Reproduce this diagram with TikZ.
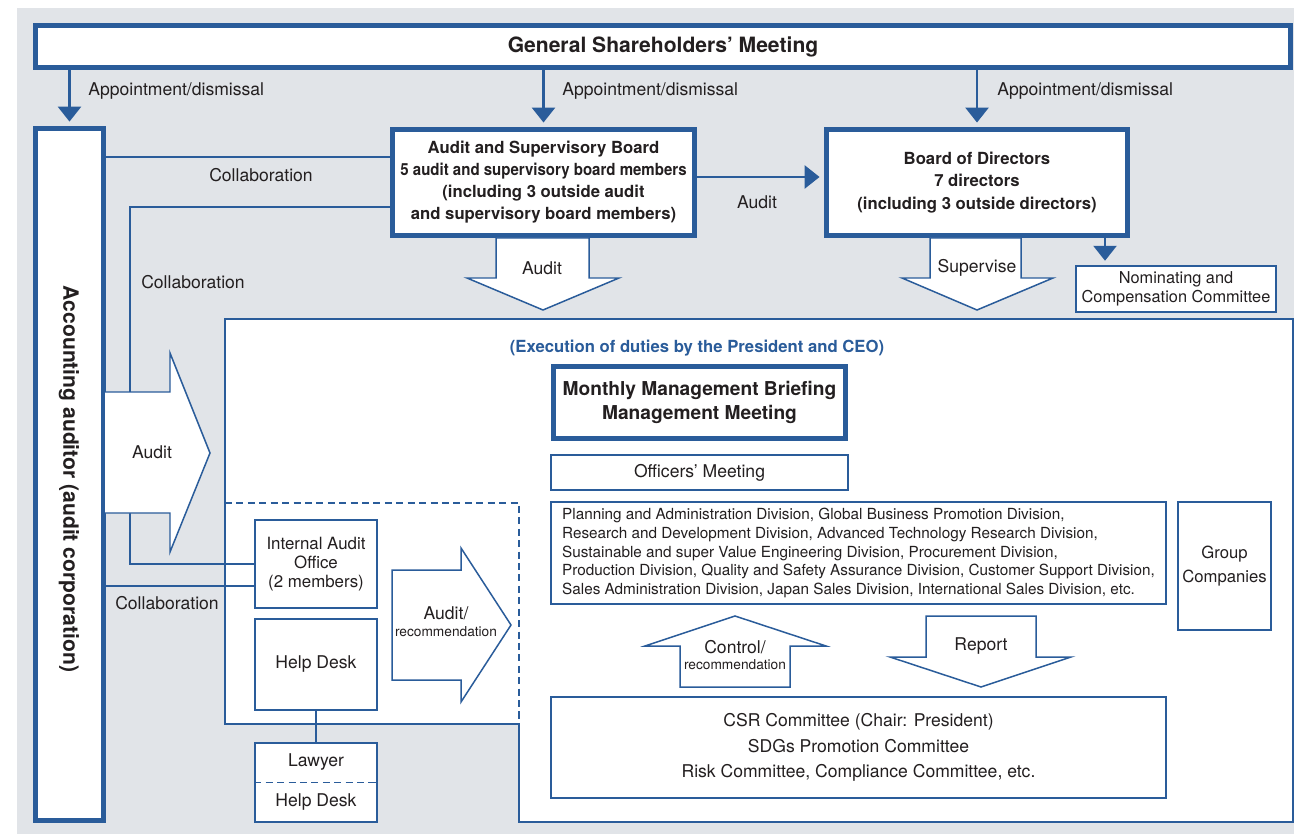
\documentclass[tikz,border=0pt]{standalone}
\usepackage{fontspec}
\setmainfont{TeX Gyre Heros}
\usepackage{graphicx}
\usepackage{tikz}
\usetikzlibrary{arrows.meta}
\definecolor{govblue}{RGB}{42,92,154}
\definecolor{govgray}{RGB}{225,228,232}
\definecolor{govtext}{RGB}{35,31,32}

\begin{document}
\begin{tikzpicture}[x=0.02cm,y=-0.02cm,
  thickbox/.style={draw=govblue,line width=2.8pt,fill=white,text=govtext,align=center,inner sep=0pt},
  thinbox/.style={draw=govblue,line width=0.85pt,fill=white,text=govtext,align=center,inner sep=0pt},
  link/.style={draw=govblue,line width=1.6pt},
  tip/.style={-{Triangle[length=3mm,width=4.6mm]},shorten >=0.9mm},
  bigarrow/.style={draw=govblue,line width=0.85pt,fill=white,line join=miter},
  lbl/.style={text=govtext,font=\fontsize{10}{12}\selectfont,inner sep=0pt}]
\useasboundingbox (0,0) rectangle (1294,834);
\fill [govgray] (17,8) rectangle (1294,834);

% execution area
\draw [govblue,line width=0.85pt,fill=white] (225,319) -- (1293,319) -- (1293,822) -- (519,822) -- (519,724) -- (225,724) -- cycle;
\draw [govblue,line width=0.85pt,dash pattern=on 4pt off 2.5pt] (225,503) -- (519,503) -- (519,724);
\node [text=govblue,font=\bfseries\fontsize{9.5}{11}\selectfont,inner sep=0pt] (execution) at (697,348) {(Execution of duties by the President and CEO)};

% boxes
\node [thickbox,minimum width=25.1cm,minimum height=0.84cm,font=\bfseries\fontsize{12}{14}\selectfont] (share) at (663,46.5) {General Shareholders' Meeting};
\node [thickbox,minimum width=1.36cm,minimum height=13.84cm] (acct) at (69.5,474.5) {};
\node [rotate=-90,text=govtext,font=\bfseries\fontsize{12}{14}\selectfont,inner sep=0pt] (acctlabel) at (69,479) {Accounting auditor (audit corporation)};
\node [thickbox,minimum width=6.04cm,minimum height=2.12cm,font=\bfseries\fontsize{9.5}{12.5}\selectfont] (board) at (543.5,182.5)
  {Audit and Supervisory Board\\\scalebox{0.9}[1]{5 audit and supervisory board members}\\(including 3 outside audit\\and supervisory board members)};
\node [thickbox,minimum width=6.02cm,minimum height=2.12cm,font=\bfseries\fontsize{9.5}{12.7}\selectfont] (directors) at (977,182.5)
  {Board of Directors\\7 directors\\(including 3 outside directors)};
\node [thinbox,minimum width=4.0cm,minimum height=0.92cm,font=\fontsize{9.3}{10.8}\selectfont] (nominating) at (1176,289) {Nominating and\\Compensation Committee};
\node [thickbox,minimum width=5.84cm,minimum height=1.44cm,font=\bfseries\fontsize{10.9}{14}\selectfont] (monthly) at (699.5,402.5) {Monthly Management Briefing\\Management Meeting};
\node [thinbox,minimum width=5.94cm,minimum height=0.70cm,font=\fontsize{10}{12}\selectfont] (officers) at (699.5,472.5) {Officers' Meeting};
\node [thinbox,minimum width=12.3cm,minimum height=2.04cm,align=left,font=\fontsize{8.7}{10.6}\selectfont] (divisions) at (858.5,553)
  {Planning and Administration Division, Global Business Promotion Division,\\
   Research and Development Division, Advanced Technology Research Division,\\
   Sustainable and super Value Engineering Division, Procurement Division,\\
   Production Division, Quality and Safety Assurance Division, Customer Support Division,\\
   Sales Administration Division, Japan Sales Division, International Sales Division, etc.};
\node [thinbox,minimum width=1.86cm,minimum height=2.56cm,font=\fontsize{9.5}{14}\selectfont] (group) at (1224.5,566) {Group\\Companies};
\node [thinbox,minimum width=12.3cm,minimum height=2.02cm,font=\fontsize{10}{14.7}\selectfont] (csr) at (858.5,747.5)
  {CSR Committee (Chair: President)\\SDGs Promotion Committee\\Risk Committee, Compliance Committee, etc.};
\node [thinbox,minimum width=2.44cm,minimum height=1.76cm,font=\fontsize{9.6}{10.8}\selectfont] (internal) at (316,564) {Internal Audit\\Office\\(2 members)};
\node [thinbox,minimum width=2.44cm,minimum height=1.82cm,font=\fontsize{10}{12}\selectfont] (helpdesk) at (316,664.5) {Help Desk};
\node [thinbox,minimum width=2.44cm,minimum height=1.58cm] (lawyer) at (316,782.5) {};
\draw [govblue,line width=0.85pt,dash pattern=on 4pt off 2.5pt] (lawyer.west) -- (lawyer.east);
\node [lbl] (lawyerlabel) at (316,762) {Lawyer};
\node [lbl] (deskbelow) at (316,802) {Help Desk};

% helper points
\coordinate (collabA) at (0,157);
\coordinate (collabB) at (130,207);
\coordinate (collabC) at (130,564);
\coordinate (collabD) at (0,586);
\coordinate (nomx) at (1105,0);
\coordinate (auditline) at (0,177);

% connectors
\draw [link,tip] (share.south -| acct.north) -- (acct.north);
\draw [link,tip] (share.south -| board.north) -- (board.north);
\draw [link,tip] (share.south -| directors.north) -- (directors.north);
\draw [link,tip] (board.east |- auditline) -- (directors.west |- auditline);
\draw [link,tip] (directors.south -| nomx) -- (nominating.north -| nomx);
\draw [link] (acct.east |- collabA) -- (board.west |- collabA);
\draw [link] (board.west |- collabB) -- (collabB) -- (collabC) -- (internal.west |- collabC);
\draw [link] (acct.east |- collabD) -- (internal.west |- collabD);
\draw [link] (helpdesk.south) -- (lawyer.north);

\node [lbl,anchor=west] (appoint1) at (88,91) {Appointment/dismissal};
\node [lbl,anchor=west] (appoint2) at (562,91) {Appointment/dismissal};
\node [lbl,anchor=west] (appoint3) at (997,91) {Appointment/dismissal};
\node [lbl] (collab1) at (261,175) {Collaboration};
\node [lbl] (collab2) at (193,282) {Collaboration};
\node [lbl] (collab3) at (167,603) {Collaboration};
\node [lbl] (auditmid) at (757,202) {Audit};

% block arrows
\draw [bigarrow] (496,238) -- (589,238) -- (589,278) -- (619,278) -- (543,310) -- (467,278) -- (496,278) -- cycle;
\node [lbl] (auditdown) at (542,268) {Audit};
\draw [bigarrow] (930,238) -- (1021,238) -- (1021,278) -- (1053,278) -- (977,310) -- (902,278) -- (930,278) -- cycle;
\node [lbl] (supervise) at (977,268) {Supervise};
\draw [bigarrow] (105,392) -- (170,392) -- (170,353) -- (210,453) -- (170,552) -- (170,513) -- (105,513);
\node [lbl] (auditleft) at (152,452) {Audit};
\draw [bigarrow] (392,570) -- (461,570) -- (461,548) -- (511,625) -- (461,702) -- (461,680) -- (392,680) -- cycle;
\node [lbl] (recom1) at (446,613) {Audit/};
\node [lbl,font=\fontsize{7.8}{9}\selectfont] (recom2) at (446,632) {recommendation};
\draw [bigarrow] (680,687) -- (680,646) -- (645,646) -- (735,616) -- (826,646) -- (790,646) -- (790,687) -- cycle;
\node [lbl] (control1) at (735,647) {Control/};
\node [lbl,font=\fontsize{7.8}{9}\selectfont] (control2) at (735,665) {recommendation};
\draw [bigarrow] (926,616) -- (1036,616) -- (1036,657) -- (1071,657) -- (981,687) -- (890,657) -- (926,657) -- cycle;
\node [lbl] (report) at (981,646) {Report};
\end{tikzpicture}
\end{document}
